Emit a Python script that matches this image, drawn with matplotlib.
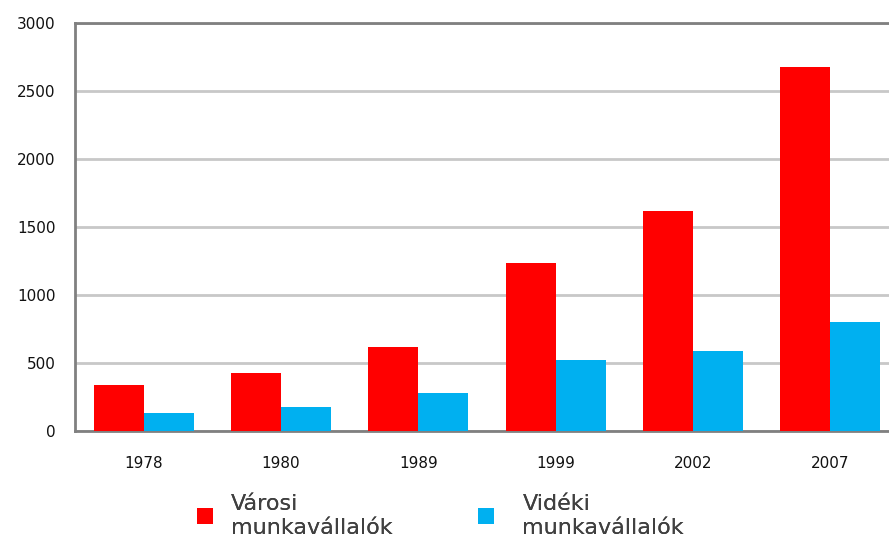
import matplotlib
matplotlib.use("Agg")
import matplotlib.pyplot as plt
import numpy as np
from matplotlib.patches import Patch

years = ["1978", "1980", "1989", "1999", "2002", "2007"]
urban = [340, 430, 620, 1235, 1620, 2680]
rural = [130, 175, 280, 520, 585, 800]
series_names = ["Városi\nmunkavállalók", "Vidéki\nmunkavállalók"]
colors = ["#FF0000", "#00B0F0"]
yticks = [0, 500, 1000, 1500, 2000, 2500, 3000]

W, H = 889, 544
fig = plt.figure(figsize=(W / 100, H / 100), dpi=100)
ax = fig.add_axes([75 / W, 113 / H, 824 / W, 408 / H])

x = np.arange(len(years))
bw = 0.364
ax.bar(x - bw / 2, urban, width=bw, color=colors[0], zorder=3)
ax.bar(x + bw / 2, rural, width=bw, color=colors[1], zorder=3)

ax.set_xlim(-0.5, len(years) - 0.5)
ax.set_ylim(0, 3000)
ax.set_yticks(yticks)
ax.set_xticks(x)
ax.set_xticklabels(years)
ax.yaxis.grid(True, color="#c8c8c8", linewidth=2.0, zorder=0)
ax.set_axisbelow(True)
for s in ax.spines.values():
    s.set_color("#808080")
    s.set_linewidth(2.0)
ax.tick_params(axis="both", length=0, labelsize=11, colors="#111111")
ax.tick_params(axis="y", pad=14)
ax.tick_params(axis="x", pad=18)

legend_x = [197, 478]
text_pad = [0.8, 1.26]
for name, c, lx, tp in zip(series_names, colors, legend_x, text_pad):
    leg = fig.legend([Patch(facecolor=c, edgecolor="none")], [name],
                     loc="center left", bbox_to_anchor=(lx / W, 28 / H),
                     frameon=False, fontsize=16, handlelength=0.74,
                     handleheight=0.74, handletextpad=tp, borderpad=0,
                     borderaxespad=0)
    for t in leg.get_texts():
        t.set_color("#404040")
        t.set_linespacing(1.3)
    fig.add_artist(leg)

fig.savefig("out.png", dpi=100)
